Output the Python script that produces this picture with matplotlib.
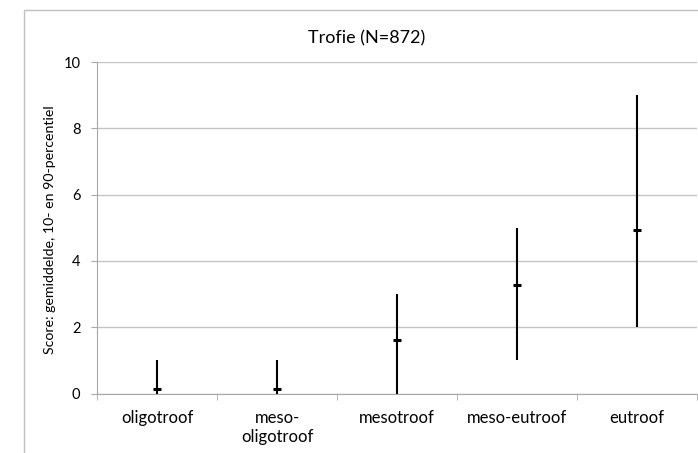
import numpy as np
import matplotlib
matplotlib.use("Agg")
import matplotlib.pyplot as plt
from matplotlib.patches import Rectangle

# data
categories = ["oligotroof", "meso-\noligotroof", "mesotroof", "meso-eutroof", "eutroof"]
mean_score = [0.13, 0.13, 1.6, 3.27, 4.92]
p10 = [0, 0, 0, 1, 2]
p90 = [1, 1, 3, 5, 9]

plt.rcParams['font.family'] = ['Lato', 'DejaVu Sans']

fig = plt.figure(figsize=(6.98, 4.53), dpi=100)
W, H = 698, 453

# outer chart frame (runs off the right/bottom edge like the original)
fig.patches.append(Rectangle((24 / W, -0.1), 1.0, 1 - 10 / H + 0.1,
                             transform=fig.transFigure, fill=False,
                             edgecolor='#c0c0c0', linewidth=1.0))

ax = fig.add_axes([97 / W, 1 - 393.5 / H, (697 - 97) / W, (393.5 - 62) / H])

x = np.arange(len(categories))
ax.vlines(x, p10, p90, color='black', linewidth=1.5, zorder=3)
ax.plot(x, mean_score, linestyle='none', marker='_', markersize=6.3,
        markeredgewidth=2.2, color='black', zorder=4)

ax.set_xlim(-0.5, len(categories) - 0.5)
ax.set_ylim(0, 10)
ax.set_yticks(np.arange(0, 11, 2))
ax.yaxis.grid(True, color='#c4c4c4', linewidth=1.0)
ax.set_axisbelow(True)

ax.set_xticks(x)
ax.set_xticklabels(categories, fontsize=12)
ax.set_xticks(np.arange(-0.5, len(categories)), minor=True)
ax.tick_params(axis='x', which='major', length=0, pad=12)
ax.tick_params(axis='x', which='minor', length=4, color='#a8a8a8', direction='out')
ax.tick_params(axis='y', length=4, color='#a8a8a8', labelsize=10.5, pad=8)

for side in ['top', 'right']:
    ax.spines[side].set_visible(False)
for side in ['left', 'bottom']:
    ax.spines[side].set_color('#a8a8a8')

fig.text(50 / W, 1 - 230 / H, "Score: gemiddelde, 10- en 90-percentiel",
         rotation=90, ha='center', va='center', fontsize=10.2)
fig.text(367 / W, 1 - 43 / H, "Trofie (N=872)", ha='center', va='baseline', fontsize=13)

fig.savefig("out.png", dpi=100)
